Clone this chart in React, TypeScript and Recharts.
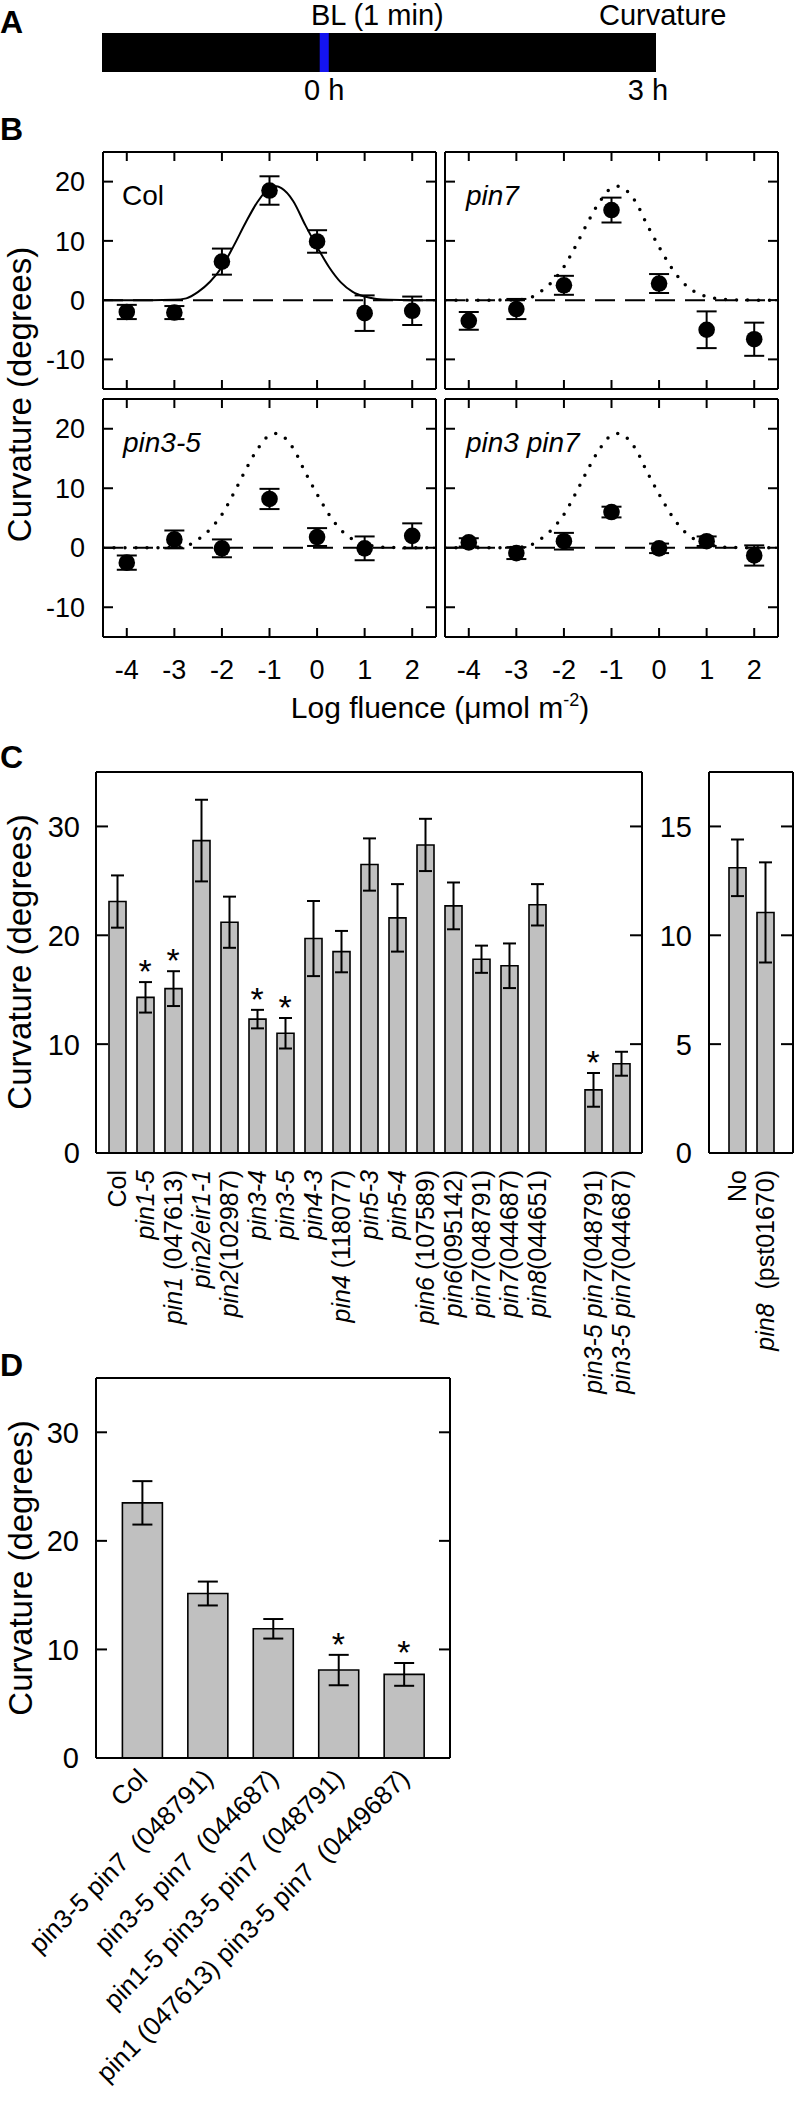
import React from "react";
import {
  Bar,
  ComposedChart,
  ErrorBar,
  Line,
  ReferenceLine,
  Scatter,
  XAxis,
  YAxis,
} from "recharts";

const FONT = "'Liberation Sans', Arial, Helvetica, sans-serif";
const INK = "#000";
const GREY = "#c0c0c0";

// ---- A: timeline (hours)
const darkPeriod = [-2.06, 3.075];
const blPulse = [-0.042, 0.042];
const timeTicks = [0, 3];

// ---- B: fluence response
const fluence = [-4, -3, -2, -1, 0, 1, 2];
const colMean = [-2.0, -2.1, 6.5, 18.5, 9.9, -2.2, -1.8];
const colErr = [1.2, 1.1, 2.2, 2.4, 1.9, 3.0, 2.4];
const pin7Mean = [-3.5, -1.5, 2.5, 15.2, 2.8, -5.0, -6.6];
const pin7Err = [1.5, 1.7, 1.6, 2.1, 1.6, 3.1, 2.8];
const pin35Mean = [-2.5, 1.4, -0.1, 8.2, 1.8, -0.1, 2.0];
const pin35Err = [1.2, 1.5, 1.5, 1.7, 1.5, 2.0, 2.1];
const pin3pin7Mean = [0.9, -0.9, 1.1, 6.0, -0.1, 1.1, -1.3];
const pin3pin7Err = [0.7, 1.0, 1.4, 0.9, 0.8, 0.8, 1.7];
// Col fit curve
const fitX = [-4.5, -4, -3.5, -3, -2.75, -2.5, -2.25, -2, -1.75, -1.5, -1.25, -1, -0.85, -0.75, -0.5, -0.25, 0, 0.25, 0.5, 0.75, 1, 1.25, 1.5, 2, 2.5];
const fitY = [0, 0, 0, 0.05, 0.3, 1.4, 3.1, 5.6, 9.2, 13.1, 16.6, 18.9, 19.2, 18.9, 16.7, 12.7, 9.0, 5.6, 3.0, 1.4, 0.6, 0.2, 0.05, 0, 0];

// ---- C: genotypes
const cItalic = ["", "pin1-5", "pin1", "pin2/eir1-1", "pin2", "pin3-4", "pin3-5", "pin4-3", "pin4", "pin5-3", "pin5-4", "pin6", "pin6", "pin7", "pin7", "pin8", "", "pin3-5 pin7", "pin3-5 pin7"];
const cRoman = ["Col", "", " (047613)", "", "(102987)", "", "", "", " (118077)", "", "", " (107589)", "(095142)", "(048791)", "(044687)", "(044651)", "", "(048791)", "(044687)"];
const cMean = [23.1, 14.3, 15.1, 28.7, 21.2, 12.3, 11.0, 19.7, 18.5, 26.5, 21.6, 28.3, 22.7, 17.8, 17.2, 22.8, null, 5.8, 8.2];
const cErr = [2.4, 1.4, 1.6, 3.75, 2.35, 0.85, 1.4, 3.45, 1.9, 2.4, 3.1, 2.4, 2.15, 1.25, 2.05, 1.9, null, 1.55, 1.1];
const cSig = [0, 1, 1, 0, 0, 1, 1, 0, 0, 0, 0, 0, 0, 0, 0, 0, 0, 1, 0];

const c2Italic = ["", "pin8"];
const c2Roman = ["No", "\u00a0\u00a0(pst01670)"];
const c2Mean = [13.1, 11.05];
const c2Err = [1.3, 2.3];

// ---- D: multiple mutants
const dLabels = ["Col", "pin3-5 pin7\u00a0 (048791)", "pin3-5 pin7\u00a0 (044687)", "pin1-5 pin3-5 pin7\u00a0 (048791)", "pin1 (047613) pin3-5 pin7\u00a0 (0449687)"];
const dMean = [23.5, 15.15, 11.9, 8.1, 7.7];
const dErr = [2.0, 1.1, 0.9, 1.4, 1.05];
const dSig = [0, 0, 0, 1, 1];

const axisLine = { stroke: INK, strokeWidth: 2 };

const leftTick = (len: number, fs = 0, gap = 0) => (p: any) => (
  <g>
    <line x1={p.x} x2={p.x + len} y1={p.y} y2={p.y} stroke={INK} strokeWidth={2} />
    {fs > 0 && (
      <text x={p.x - gap} y={p.y} dy="0.36em" textAnchor="end" fontSize={fs} fontFamily={FONT} fill={INK}>
        {p.payload.value}
      </text>
    )}
  </g>
);
const rightTick = (len: number) => (p: any) => (
  <line x1={p.x} x2={p.x - len} y1={p.y} y2={p.y} stroke={INK} strokeWidth={2} />
);
const topTick = (len: number) => (p: any) => (
  <line x1={p.x} x2={p.x} y1={p.y} y2={p.y + len} stroke={INK} strokeWidth={2} />
);
const bottomTick = (len: number, fs = 0, gap = 0) => (p: any) => (
  <g>
    <line x1={p.x} x2={p.x} y1={p.y} y2={p.y - len} stroke={INK} strokeWidth={2} />
    {fs > 0 && (
      <text x={p.x} y={p.y + gap} dy="0.36em" textAnchor="middle" fontSize={fs} fontFamily={FONT} fill={INK}>
        {p.payload.value}
      </text>
    )}
  </g>
);
const catTick = (italic: string[], roman: string[]) => (p: any) => {
  const i = p.payload?.index ?? p.index;
  return (
    <text transform={`translate(${p.x + 9},${p.y + 17}) rotate(-90)`} textAnchor="end" fontSize={25} fontFamily={FONT} fill={INK}>
      <tspan fontStyle="italic">{italic[i]}</tspan>
      <tspan>{roman[i]}</tspan>
    </text>
  );
};
const diagTick = (p: any) => {
  const i = p.payload?.index ?? p.index;
  return (
    <text transform={`translate(${p.x + 7},${p.y + 22}) rotate(-45)`} textAnchor="end" fontSize={26} fontFamily={FONT} fill={INK}>
      {dLabels[i]}
    </text>
  );
};

const dotShape = (p: any) => <circle cx={p.cx} cy={p.cy} r={8.3} fill={INK} />;
const starShape = (p: any) =>
  p.payload && p.payload.sig ? (
    <text x={p.cx} y={p.cy + 1} textAnchor="middle" fontSize={34} fontFamily={FONT} fill={INK}>
      *
    </text>
  ) : (
    <g />
  );

function FluencePanel(props: {
  mean: number[];
  err: number[];
  dotted: boolean;
  plotLeft: number;
  plotTop: number;
  plotH: number;
  showX: boolean;
  showY: boolean;
}) {
  const { mean, err, dotted, plotLeft, plotTop, plotH, showX, showY } = props;
  const pts = fluence.map((x, i) => ({ x, y: mean[i], e: err[i] }));
  const fit = fitX.map((x, i) => ({ x, y: fitY[i] }));
  const wl = showY ? plotLeft : 10;
  const hb = showX ? 56 : 10;
  return (
    <div style={{ position: "absolute", left: plotLeft - wl, top: plotTop - 10 }}>
      <ComposedChart width={wl + 333 + 10} height={10 + plotH + hb} margin={{ top: 0, right: 0, bottom: 0, left: 0 }}>
        <XAxis type="number" dataKey="x" domain={[-4.5, 2.5]} ticks={fluence} interval={0} allowDataOverflow height={hb}
          axisLine={axisLine} tickLine={false} tickSize={0} tickMargin={0} tick={bottomTick(9, showX ? 27 : 0, 32)} />
        <XAxis xAxisId="t" orientation="top" type="number" dataKey="x" domain={[-4.5, 2.5]} ticks={fluence} interval={0}
          allowDataOverflow height={10} axisLine={axisLine} tickLine={false} tickSize={0} tickMargin={0} tick={topTick(9)} />
        <YAxis type="number" domain={[-15, 25]} ticks={[-10, 0, 10, 20]} interval={0} allowDataOverflow width={wl}
          axisLine={axisLine} tickLine={false} tickSize={0} tickMargin={0} tick={leftTick(10, showY ? 27 : 0, 18)} />
        <YAxis yAxisId="r" orientation="right" type="number" domain={[-15, 25]} ticks={[-10, 0, 10, 20]} interval={0}
          allowDataOverflow width={10} axisLine={axisLine} tickLine={false} tickSize={0} tickMargin={0} tick={rightTick(10)} />
        <ReferenceLine y={0} stroke={INK} strokeWidth={2} strokeDasharray="20 10" />
        <Line data={fit} dataKey="y" type="monotone" dot={false} activeDot={false} stroke={INK}
          strokeWidth={dotted ? 3.5 : 2} strokeDasharray={dotted ? "0 11" : undefined} strokeLinecap="round"
          isAnimationActive={false} />
        <Scatter data={pts} dataKey="y" shape={dotShape} isAnimationActive={false}>
          <ErrorBar dataKey="e" direction="y" width={10} strokeWidth={2} stroke={INK} isAnimationActive={false} />
        </Scatter>
      </ComposedChart>
    </div>
  );
}

function TimelinePanel() {
  // one row: dark period and the blue-light pulse, each on its own hidden category axis so they overlap
  const data = [{ name: "t", dark: darkPeriod, pulse: blPulse }];
  return (
    <div style={{ position: "absolute", left: 0, top: 0 }}>
      <ComposedChart layout="vertical" width={797} height={110} data={data}
        margin={{ top: 33, right: 141, bottom: 0, left: 102 }} barCategoryGap={0} barGap={0}>
        <XAxis type="number" domain={[darkPeriod[0], darkPeriod[1]]} ticks={timeTicks} interval={0}
          allowDataOverflow height={38} axisLine={false} tickLine={false} tickSize={0} tickMargin={0}
          tick={(p: any) => (
            <text x={p.x} y={p.y + 28} textAnchor="middle" fontSize={29} fontFamily={FONT} fill={INK}>
              {`${p.payload.value} h`}
            </text>
          )} />
        <YAxis yAxisId="a" type="category" dataKey="name" hide />
        <YAxis yAxisId="b" type="category" dataKey="name" hide />
        <Bar yAxisId="a" dataKey="dark" fill="#000" isAnimationActive={false} />
        <Bar yAxisId="b" dataKey="pulse" fill="#1414f0" isAnimationActive={false} />
      </ComposedChart>
    </div>
  );
}

function BarPanel(props: {
  italic: string[];
  roman: string[] | null;
  mean: (number | null)[];
  err: (number | null)[];
  sig: number[];
  left: number;
  top: number;
  wl: number;
  plotW: number;
  wr: number;
  plotH: number;
  hb: number;
  yMax: number;
  yTicks: number[];
  pad: number;
  barSize: number;
  capW: number;
  tickLen: number;
  labelGap: number;
  diag: boolean;
}) {
  const p = props;
  const data = p.mean.map((v, i) => ({
    name: `k${i}`,
    v,
    e: p.err[i],
    s: v == null ? null : v + (p.err[i] as number),
    sig: p.sig[i],
  }));
  return (
    <div style={{ position: "absolute", left: p.left, top: p.top }}>
      <ComposedChart width={p.wl + p.plotW + p.wr} height={10 + p.plotH + p.hb} data={data}
        margin={{ top: 0, right: 0, bottom: 0, left: 0 }} barCategoryGap={0}>
        <XAxis dataKey="name" type="category" interval={0} padding={{ left: p.pad, right: p.pad }} height={p.hb}
          axisLine={axisLine} tickLine={false} tickSize={0} tickMargin={0}
          tick={p.diag ? diagTick : catTick(p.italic, p.roman as string[])} />
        <XAxis xAxisId="t" orientation="top" dataKey="name" type="category" interval={0}
          padding={{ left: p.pad, right: p.pad }} height={10} axisLine={axisLine} tickLine={false} tick={false} />
        <YAxis type="number" domain={[0, p.yMax]} ticks={p.yTicks} interval={0} allowDataOverflow width={p.wl}
          axisLine={axisLine} tickLine={false} tickSize={0} tickMargin={0} tick={leftTick(p.tickLen, 29, p.labelGap)} />
        <YAxis yAxisId="r" orientation="right" type="number" domain={[0, p.yMax]} ticks={p.yTicks} interval={0}
          allowDataOverflow width={p.wr} axisLine={axisLine} tickLine={false} tickSize={0} tickMargin={0}
          tick={rightTick(p.tickLen)} />
        <Bar dataKey="v" barSize={p.barSize} fill={GREY} stroke={INK} strokeWidth={1.6} isAnimationActive={false}>
          <ErrorBar dataKey="e" direction="y" width={p.capW} strokeWidth={2} stroke={INK} isAnimationActive={false} />
        </Bar>
        <Scatter dataKey="s" shape={starShape} isAnimationActive={false} />
      </ComposedChart>
    </div>
  );
}

function Overlay() {
  const title = (y: number, x = 31) => (
    <text transform={`translate(${x},${y}) rotate(-90)`} textAnchor="middle" fontSize={33}>
      Curvature (degrees)
    </text>
  );
  return (
    <svg width={797} height={2106} style={{ position: "absolute", left: 0, top: 0, pointerEvents: "none" }}
      fontFamily={FONT} fill={INK}>
      <text x={0} y={33} fontSize={32} fontWeight="bold">A</text>
      <text x={311} y={25} fontSize={29}>BL (1 min)</text>
      <text x={599} y={25} fontSize={29}>Curvature</text>
      <text x={0} y={140} fontSize={32} fontWeight="bold">B</text>
      <text x={122} y={205} fontSize={28}>Col</text>
      <text x={466} y={205} fontSize={28} fontStyle="italic">pin7</text>
      <text x={123} y={452} fontSize={28} fontStyle="italic">pin3-5</text>
      <text x={466} y={452} fontSize={28} fontStyle="italic">pin3 pin7</text>
      {title(394.5)}
      <text x={440} y={718} fontSize={30} textAnchor="middle">
        <tspan>Log fluence (μmol m</tspan>
        <tspan dy={-12} fontSize={18}>-2</tspan>
        <tspan dy={12}>)</tspan>
      </text>
      <text x={0} y={768} fontSize={32} fontWeight="bold">C</text>
      {title(962)}
      <text x={0} y={1376} fontSize={32} fontWeight="bold">D</text>
      {title(1568, 32)}
    </svg>
  );
}

export default function App() {
  return (
    <div style={{ position: "absolute", left: 0, top: 0, width: 797, height: 2106, background: "#fff", fontFamily: FONT }}>
      <TimelinePanel />
      <FluencePanel mean={colMean} err={colErr} dotted={false} plotLeft={103} plotTop={152} plotH={237} showX={false} showY />
      <FluencePanel mean={pin7Mean} err={pin7Err} dotted plotLeft={445} plotTop={152} plotH={237} showX={false} showY={false} />
      <FluencePanel mean={pin35Mean} err={pin35Err} dotted plotLeft={103} plotTop={399} plotH={238} showX showY />
      <FluencePanel mean={pin3pin7Mean} err={pin3pin7Err} dotted plotLeft={445} plotTop={399} plotH={238} showX showY={false} />
      <BarPanel italic={cItalic} roman={cRoman} mean={cMean} err={cErr} sig={cSig} left={0} top={762} wl={96}
        plotW={546} wr={10} plotH={381} hb={330} yMax={35} yTicks={[0, 10, 20, 30]} pad={7} barSize={17}
        capW={6.5} tickLen={12} labelGap={16} diag={false} />
      <BarPanel italic={c2Italic} roman={c2Roman} mean={c2Mean} err={c2Err} sig={[0, 0]} left={649} top={762} wl={60}
        plotW={84} wr={4} plotH={381} hb={330} yMax={17.5} yTicks={[0, 5, 10, 15]} pad={14} barSize={17}
        capW={6.5} tickLen={12} labelGap={17} diag={false} />
      <BarPanel italic={[]} roman={null} mean={dMean} err={dErr} sig={dSig} left={0} top={1368} wl={96}
        plotW={354} wr={10} plotH={380} hb={348} yMax={35} yTicks={[0, 10, 20, 30]} pad={13.4} barSize={40}
        capW={10} tickLen={11} labelGap={17} diag />
      <Overlay />
    </div>
  );
}
